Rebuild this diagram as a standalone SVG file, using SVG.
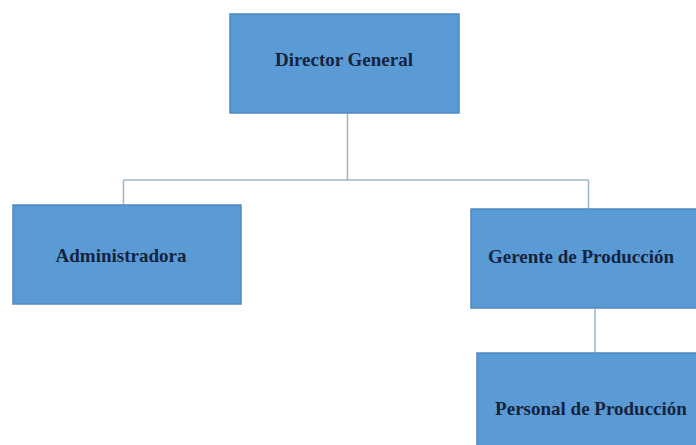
<svg xmlns="http://www.w3.org/2000/svg" width="696" height="445" viewBox="0 0 696 445">
<style>
.box{fill:#5b9bd5;stroke:#4f88bf;stroke-width:1.5}
.lbl{font-family:"Liberation Serif","Times New Roman",serif;font-weight:bold;font-size:19px;fill:#14243f;text-anchor:middle}
.con{fill:none;stroke:#9fb6cc;stroke-width:1.5}
</style>
<rect width="696" height="445" fill="#ffffff"/>
<g id="connectors">
<path class="con" d="M347.5 113 V180 M123.5 180 H588.5 M123.5 180 V205 M588.5 180 V209 M595 308 V353"/>
</g>
<g id="director">
<rect class="box" x="230" y="14" width="229" height="99"/>
<text class="lbl" x="344" y="66">Director General</text>
</g>
<g id="administradora">
<rect class="box" x="13" y="205" width="228" height="99"/>
<text class="lbl" x="121" y="262">Administradora</text>
</g>
<g id="gerente">
<rect class="box" x="471" y="209" width="230" height="99"/>
<text class="lbl" x="581" y="263">Gerente de Producción</text>
</g>
<g id="personal">
<rect class="box" x="477" y="353" width="225" height="98"/>
<text class="lbl" x="591" y="415">Personal de Producción</text>
</g>
</svg>
